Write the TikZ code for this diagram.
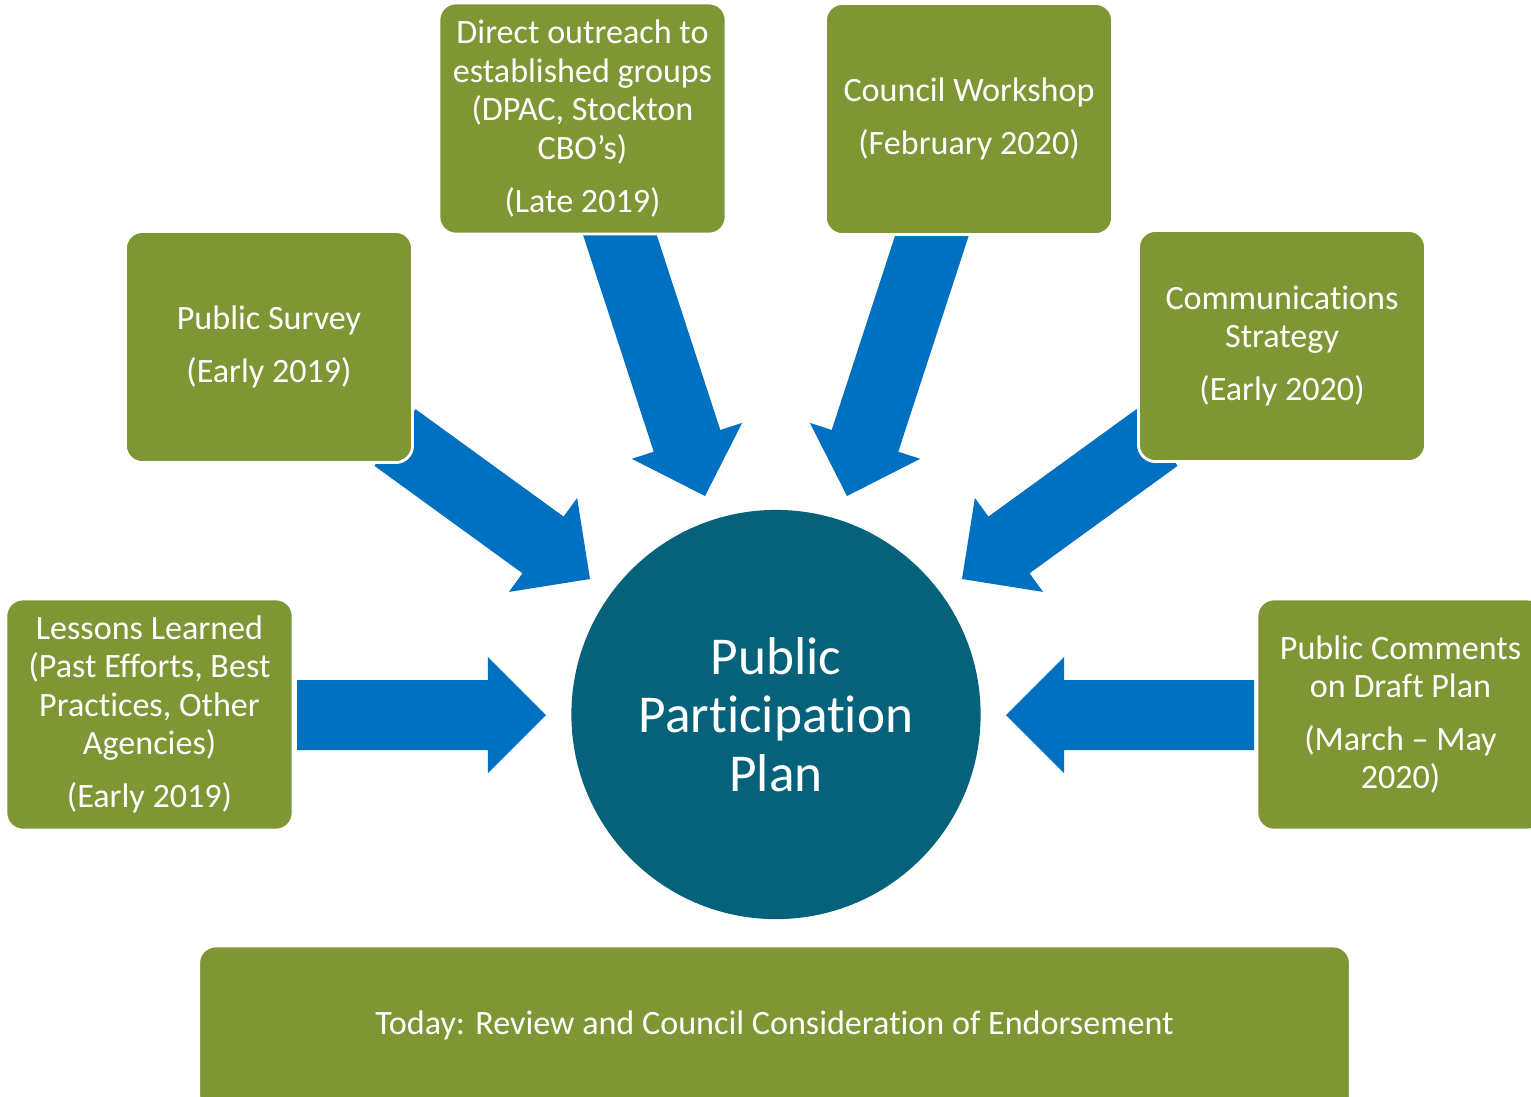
\documentclass[tikz,border=0pt]{standalone}
\usepackage{fontspec}
\setmainfont[Ligatures=TeX, RawFeature=-liga, RawFeature=-clig, RawFeature=-calt, RawFeature=-dlig]{Carlito}
\usetikzlibrary{calc}
\definecolor{stepgreen}{HTML}{7F9634}
\definecolor{planteal}{HTML}{05627A}
\definecolor{flowblue}{HTML}{0070C0}
\tikzset{
  inputbox/.style={fill=stepgreen, draw=white, line width=0.8pt, rounded corners=0.17cm,
    minimum width=2.87cm, minimum height=2.31cm, inner sep=0pt, align=center,
    text=white, font=\fontsize{9.7}{10.95}\selectfont},
  planhub/.style={circle, fill=planteal, minimum size=4.09cm, inner sep=0pt,
    align=center, text=white, font=\fontsize{15.15}{16.7}\selectfont}
}
\newcommand{\pgap}{\\[4.1pt]}

\begin{document}
\begin{tikzpicture}[x=0.01cm, y=-0.01cm]
  \useasboundingbox (0,0) rectangle (1531,1096);
  \clip (0,0) rectangle (1531,1096);

  % Arrow ends (start behind the boxes, tip just off the circle)
  \coordinate (lessonsout) at (297,715);
  \coordinate (lessonstip) at (546,715);
  \coordinate (surveyout) at (395,437.5);
  \coordinate (surveytip) at (590,579);
  \coordinate (outreachout) at (615,220);
  \coordinate (outreachtip) at (705,496);
  \coordinate (councilout) at (937,220);
  \coordinate (counciltip) at (847,496);
  \coordinate (commsout) at (1157,437.5);
  \coordinate (commstip) at (962,579);
  \coordinate (commentsout) at (1254,715);
  \coordinate (commentstip) at (1006,715);

  % Block arrows
  \foreach \src/\tip in {lessonsout/lessonstip, surveyout/surveytip, outreachout/outreachtip,
                         councilout/counciltip, commsout/commstip, commentsout/commentstip} {
    \coordinate (hb) at ($(\tip)!0.58cm!(\src)$);
    \fill[flowblue] ($(\src)!0.35cm!90:(\tip)$) -- ($(hb)!0.35cm!90:(\tip)$)
      -- ($(hb)!0.58cm!90:(\tip)$) -- (\tip) -- ($(hb)!0.58cm!-90:(\tip)$)
      -- ($(hb)!0.35cm!-90:(\tip)$) -- ($(\src)!0.35cm!-90:(\tip)$) -- cycle;
  }

  % Input boxes
  \node[inputbox] (outreach) at (582.5,118.5) {Direct outreach to\\established groups\\(DPAC, Stockton\\CBO’s)\pgap(Late 2019)};
  \node[inputbox] (council) at (969,119) {Council Workshop\pgap(February 2020)};
  \node[inputbox] (survey) at (269,347) {Public Survey\pgap(Early 2019)};
  \node[inputbox] (comms) at (1282,346) {Communications\\Strategy\pgap(Early 2020)};
  \node[inputbox] (lessons) at (149.5,714.5) {Lessons Learned\\(Past Efforts, Best\\Practices, Other\\Agencies)\pgap(Early 2019)};
  \node[inputbox] (comments) at (1400.5,714.5) {Public Comments\\on Draft Plan\pgap(March – May\\2020)};

  % Centre
  \node[planhub] (plan) at (776,714.5) {Public\\Participation\\Plan};

  % Bottom bar
  \node[inputbox, minimum width=11.51cm, minimum height=1.66cm] (today) at (774.5,1029)
    {\raisebox{0.13cm}{Today: Review and Council Consideration of Endorsement}};
\end{tikzpicture}
\end{document}
